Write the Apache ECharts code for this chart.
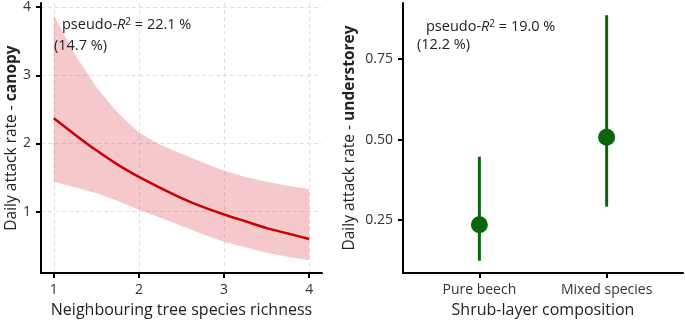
<!DOCTYPE html>
<html>
<head>
<meta charset="utf-8">
<script src="https://cdn.jsdelivr.net/npm/echarts@6/dist/echarts.min.js"></script>
<style>
  html, body { margin: 0; padding: 0; background: #fff; }
  #chart { width: 685px; height: 323px; }
</style>
</head>
<body>
<div id="chart"></div>
<script>
// left panel: fitted attack rate vs neighbouring tree species richness
var richness = [1, 1.25, 1.5, 1.75, 2, 2.25, 2.5, 2.75, 3, 3.25, 3.5, 3.75, 4];
var fitCanopy = [2.37, 2.13, 1.90, 1.69, 1.51, 1.35, 1.20, 1.07, 0.96, 0.86, 0.76, 0.68, 0.60];
var lowerCanopy = [1.44, 1.36, 1.27, 1.16, 1.03, 0.91, 0.79, 0.67, 0.56, 0.48, 0.40, 0.34, 0.29];
var upperCanopy = [3.88, 3.30, 2.83, 2.45, 2.16, 1.98, 1.85, 1.72, 1.60, 1.51, 1.44, 1.38, 1.33];
var canopyTicks = [1, 2, 3, 4];

// right panel: shrub-layer composition
var shrubCats = ["Pure beech", "Mixed species"];
var shrubMean = [0.236, 0.507];
var shrubLower = [0.124, 0.292];
var shrubUpper = [0.447, 0.886];
var shrubTicks = [0.25, 0.50, 0.75];

var FONT = "'Open Sans', sans-serif";
var chart = echarts.init(document.getElementById("chart"));

var axisLineStyle = { color: "#000", width: 2 };
var gridLine = { show: true, lineStyle: { color: "#dedede", type: [4, 3], width: 1 } };

function supText(val) {
  return {
    text: "{a|pseudo-}{i|R}{s|2}{a| = " + val + "}",
    rich: {
      a: { fontSize: 14.5, fontFamily: FONT, fill: "#222" },
      i: { fontSize: 14.5, fontFamily: FONT, fontStyle: "italic", fill: "#222" },
      s: { fontSize: 10, fontFamily: FONT, fill: "#222", verticalAlign: "top", padding: [0, 0, 6, 0] }
    }
  };
}

var option = {
  animation: false,
  textStyle: { fontFamily: FONT },
  grid: [
    { left: 41, top: 3, width: 281, height: 273 },
    { left: 403, top: 3, width: 280, height: 273 }
  ],
  xAxis: [
    {
      gridIndex: 0,
      type: "value",
      min: 0.85,
      max: 4.15,
      axisLine: { lineStyle: axisLineStyle },
      axisTick: { customValues: canopyTicks, length: 5, lineStyle: axisLineStyle },
      axisLabel: { customValues: canopyTicks, color: "#333", fontSize: 14, margin: 10, fontFamily: FONT },
      splitLine: gridLine,
      name: "Neighbouring tree species richness",
      nameLocation: "middle",
      nameGap: 28,
      nameTextStyle: { color: "#222", fontSize: 16, fontFamily: FONT }
    },
    {
      gridIndex: 1,
      type: "value",
      min: 0.4,
      max: 2.6,
      axisLine: { lineStyle: axisLineStyle },
      axisTick: { customValues: [1, 2], length: 5, lineStyle: axisLineStyle },
      axisLabel: {
        customValues: [1, 2],
        color: "#333",
        fontSize: 14,
        margin: 10,
        fontFamily: FONT,
        formatter: function (v) { return shrubCats[Math.round(v) - 1]; }
      },
      splitLine: { show: false },
      name: "Shrub-layer composition",
      nameLocation: "middle",
      nameGap: 29,
      nameTextStyle: { color: "#222", fontSize: 16, fontFamily: FONT }
    }
  ],
  yAxis: [
    {
      gridIndex: 0,
      type: "value",
      min: 0.1,
      max: 4.06,
      axisLine: { lineStyle: axisLineStyle },
      axisTick: { customValues: canopyTicks, length: 5, lineStyle: axisLineStyle },
      axisLabel: { customValues: canopyTicks, color: "#333", fontSize: 14, margin: 10, fontFamily: FONT },
      splitLine: gridLine,
      name: "Daily attack rate - {b|canopy}",
      nameLocation: "middle",
      nameGap: 21,
      nameTextStyle: {
        color: "#222", fontSize: 15.5, fontFamily: FONT,
        rich: { b: { fontWeight: "bold", fontSize: 15.5, color: "#222", fontFamily: FONT } }
      }
    },
    {
      gridIndex: 1,
      type: "value",
      min: 0.086,
      max: 0.924,
      axisLine: { lineStyle: axisLineStyle },
      axisTick: { customValues: shrubTicks, length: 5, lineStyle: axisLineStyle },
      axisLabel: {
        customValues: shrubTicks,
        color: "#333",
        fontSize: 14,
        margin: 10,
        fontFamily: FONT,
        formatter: function (v) { return v.toFixed(2); }
      },
      splitLine: { show: false },
      name: "Daily attack rate - {b|understorey}",
      nameLocation: "middle",
      nameGap: 45,
      nameTextStyle: {
        color: "#222", fontSize: 15.5, fontFamily: FONT,
        rich: { b: { fontWeight: "bold", fontSize: 15.5, color: "#222", fontFamily: FONT } }
      }
    }
  ],
  series: [
    {
      // confidence band drawn as one polygon through the axis scales
      name: "band",
      type: "custom",
      xAxisIndex: 0,
      yAxisIndex: 0,
      data: [[richness[0], lowerCanopy[0]]],
      renderItem: function (params, api) {
        var pts = [];
        for (var i = 0; i < richness.length; i++) {
          pts.push(api.coord([richness[i], upperCanopy[i]]));
        }
        for (var j = richness.length - 1; j >= 0; j--) {
          pts.push(api.coord([richness[j], lowerCanopy[j]]));
        }
        return {
          type: "polygon",
          shape: { points: pts },
          style: { fill: "rgba(222,70,75,0.29)", stroke: null }
        };
      },
      z: 1
    },
    {
      name: "fit",
      type: "line",
      xAxisIndex: 0,
      yAxisIndex: 0,
      symbol: "none",
      smooth: 0.3,
      lineStyle: { color: "#cc0000", width: 2.5 },
      data: richness.map(function (x, i) { return [x, fitCanopy[i]]; }),
      z: 3
    },
    {
      name: "ci",
      type: "custom",
      xAxisIndex: 1,
      yAxisIndex: 1,
      data: shrubCats.map(function (c, i) { return [i + 1, shrubLower[i], shrubUpper[i]]; }),
      renderItem: function (params, api) {
        var p1 = api.coord([api.value(0), api.value(1)]);
        var p2 = api.coord([api.value(0), api.value(2)]);
        return {
          type: "line",
          shape: { x1: p1[0], y1: p1[1], x2: p2[0], y2: p2[1] },
          style: { stroke: "#0b650b", lineWidth: 3 }
        };
      },
      z: 2
    },
    {
      name: "mean",
      type: "scatter",
      xAxisIndex: 1,
      yAxisIndex: 1,
      symbol: "circle",
      symbolSize: 17,
      itemStyle: { color: "#0b650b", opacity: 1 },
      data: shrubCats.map(function (c, i) { return [i + 1, shrubMean[i]]; }),
      z: 3
    }
  ],
  graphic: [
    { type: "text", left: 62, top: 17, z: 10, style: supText("22.1 %") },
    { type: "text", left: 54, top: 38, z: 10, style: { text: "(14.7 %)", fontSize: 14.5, fontFamily: FONT, fill: "#222" } },
    { type: "text", left: 426, top: 19, z: 10, style: supText("19.0 %") },
    { type: "text", left: 417, top: 37, z: 10, style: { text: "(12.2 %)", fontSize: 14.5, fontFamily: FONT, fill: "#222" } }
  ]
};

chart.setOption(option);
</script>
</body>
</html>
